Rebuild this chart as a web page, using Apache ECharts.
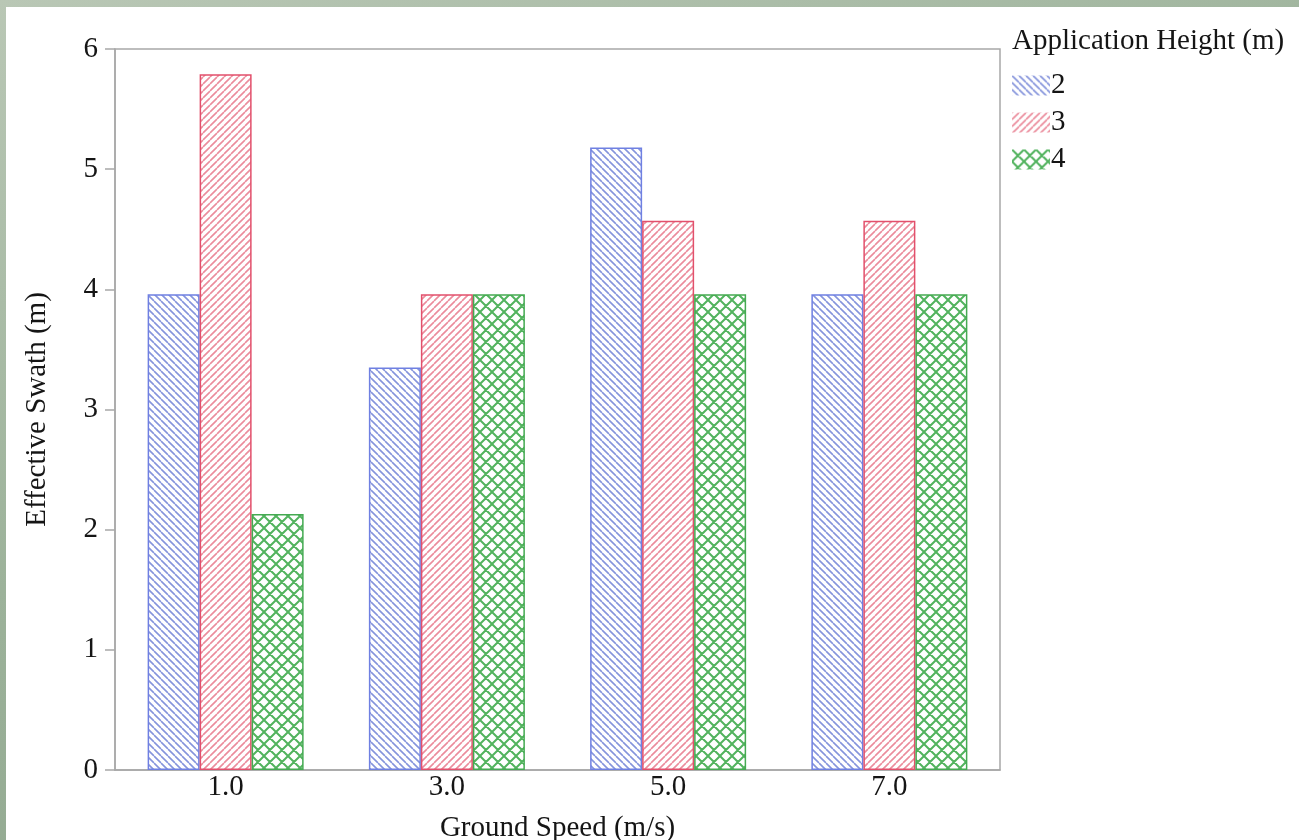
<!DOCTYPE html>
<html>
<head>
<meta charset="utf-8">
<script src="https://cdn.jsdelivr.net/npm/echarts@6/dist/echarts.min.js"></script>
<style>
  html, body { margin: 0; padding: 0; width: 1299px; height: 840px; overflow: hidden; }
  body { background: linear-gradient(160deg, #b9c7b5 0%, #9cb29a 45%, #89a088 100%); }
  #paper { position: absolute; left: 6px; top: 7px; right: 0; bottom: 0; background: #fff; }
  #chart { position: absolute; left: 0; top: 0; width: 1299px; height: 840px; }
</style>
</head>
<body>
<div id="paper"></div>
<div id="chart"></div>
<script>
// ground speed categories (m/s)
const speeds = ['1.0', '3.0', '5.0', '7.0'];
// effective swath (m) per application height
const height2 = [3.96, 3.35, 5.18, 3.96];
const height3 = [5.79, 3.96, 4.57, 4.57];
const height4 = [2.13, 3.96, 3.96, 3.96];
const heightNames = ['2', '3', '4'];

const FONT = '"Liberation Serif", "Times New Roman", serif';
const FS = 29;
const INK = '#151515';

// little canvas tiles for the hatch fills
function hatch(kind, color) {
  const s = kind === 'cross' ? 12 : 7;
  const c = document.createElement('canvas');
  c.width = s; c.height = s;
  const g = c.getContext('2d');
  g.fillStyle = '#fff';
  g.fillRect(0, 0, s, s);
  g.strokeStyle = color;
  g.lineWidth = kind === 'cross' ? 2 : 1.6;
  g.beginPath();
  for (let k = -s; k <= s; k += s) {
    if (kind === 'back' || kind === 'cross') { g.moveTo(k, 0); g.lineTo(k + s, s); }
    if (kind === 'fwd' || kind === 'cross') { g.moveTo(k, s); g.lineTo(k + s, 0); }
  }
  g.stroke();
  return { image: c, repeat: 'repeat' };
}

const styles = [
  { fill: hatch('back', '#8594dc'), border: '#6f80e2' },
  { fill: hatch('fwd', '#eb8c9c'), border: '#e2506c' },
  { fill: hatch('cross', '#52b35e'), border: '#45aa52' }
];

const chart = echarts.init(document.getElementById('chart'));

chart.setOption({
  animation: false,
  backgroundColor: 'transparent',
  textStyle: { fontFamily: FONT },
  title: {
    text: 'Application Height (m)',
    left: 1012, top: 27, padding: 0,
    textStyle: { fontFamily: FONT, fontSize: FS, fontWeight: 'normal', color: INK }
  },
  legend: {
    orient: 'vertical',
    left: 1012, top: 71, padding: 0,
    itemWidth: 38, itemHeight: 20, itemGap: 8,
    icon: 'rect',
    textStyle: { fontFamily: FONT, fontSize: FS, color: INK, padding: [0, 0, 0, -4] },
    data: heightNames,
    itemStyle: { borderWidth: 0 }
  },
  grid: {
    left: 115, top: 49, width: 885, height: 721,
    outerBoundsMode: 'none',
    show: true, borderColor: '#a8a8a8', borderWidth: 1.5, backgroundColor: 'transparent'
  },
  xAxis: {
    type: 'category',
    data: speeds,
    name: 'Ground Speed (m/s)',
    nameLocation: 'middle',
    nameGap: 44,
    nameTextStyle: { fontFamily: FONT, fontSize: FS, color: INK },
    axisLine: { lineStyle: { color: '#a8a8a8', width: 1.5 } },
    axisTick: { show: false },
    axisLabel: { fontFamily: FONT, fontSize: FS, color: INK, margin: 3 }
  },
  yAxis: {
    type: 'value',
    min: 0, max: 6, interval: 1,
    name: 'Effective Swath (m)',
    nameLocation: 'middle',
    nameGap: 63,
    nameTextStyle: { fontFamily: FONT, fontSize: FS, color: INK },
    axisLine: { show: true, lineStyle: { color: '#a8a8a8', width: 1.5 } },
    axisTick: { show: true, length: 10, lineStyle: { color: '#a8a8a8', width: 1.5 } },
    axisLabel: { fontFamily: FONT, fontSize: FS, color: INK, margin: 17 },
    splitLine: { show: false }
  },
  series: [height2, height3, height4].map((vals, i) => ({
    name: heightNames[i],
    type: 'bar',
    data: vals,
    barWidth: 52,
    barGap: '0%',
    itemStyle: { color: styles[i].fill, borderColor: styles[i].border, borderWidth: 1.5 },
    emphasis: { disabled: true }
  }))
});
</script>
</body>
</html>
